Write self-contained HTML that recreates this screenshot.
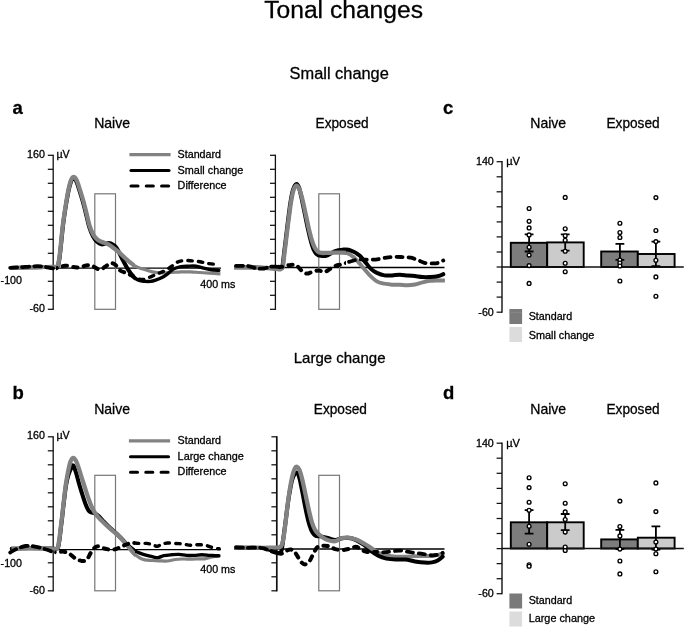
<!DOCTYPE html><html><head><meta charset="utf-8"><style>html,body{margin:0;padding:0;background:#fff}svg{display:block;will-change:transform}text{font-family:"Liberation Sans",sans-serif;fill:#000;stroke:#000;stroke-width:.28px}</style></head><body>
<svg width="685" height="628" viewBox="0 0 685 628">
<rect width="685" height="628" fill="#fff"/>
<text transform="translate(343.60 18.40) scale(1.048 1)" font-size="23.50" text-anchor="middle">Tonal changes</text>
<text transform="translate(339.20 78.70) scale(1.050 1)" font-size="15.60" text-anchor="middle">Small change</text>
<text transform="translate(339.60 363.30) scale(1.050 1)" font-size="14.30" text-anchor="middle">Large change</text>
<text transform="translate(12.40 113.80) scale(1.000 1)" font-size="18.50" font-weight="bold">a</text>
<text transform="translate(112.10 127.90) scale(1.020 1)" font-size="13.80" text-anchor="middle">Naive</text>
<text transform="translate(342.10 127.90) scale(0.990 1)" font-size="13.80" text-anchor="middle">Exposed</text>
<line x1="10.0" y1="268.1" x2="221.0" y2="268.1" stroke="#000" stroke-width="1.3"/>
<rect x="94.8" y="193.8" width="20.7" height="115.5" fill="none" stroke="#777" stroke-width="1.2"/>
<line x1="53.2" y1="154.7" x2="53.2" y2="309.9" stroke="#111" stroke-width="1.3"/>
<line x1="47.8" y1="155.3" x2="53.2" y2="155.3" stroke="#111" stroke-width="1.25"/>
<line x1="47.8" y1="169.3" x2="53.2" y2="169.3" stroke="#111" stroke-width="1.25"/>
<line x1="47.8" y1="183.3" x2="53.2" y2="183.3" stroke="#111" stroke-width="1.25"/>
<line x1="47.8" y1="197.3" x2="53.2" y2="197.3" stroke="#111" stroke-width="1.25"/>
<line x1="47.8" y1="211.3" x2="53.2" y2="211.3" stroke="#111" stroke-width="1.25"/>
<line x1="47.8" y1="225.3" x2="53.2" y2="225.3" stroke="#111" stroke-width="1.25"/>
<line x1="47.8" y1="239.3" x2="53.2" y2="239.3" stroke="#111" stroke-width="1.25"/>
<line x1="47.8" y1="253.3" x2="53.2" y2="253.3" stroke="#111" stroke-width="1.25"/>
<line x1="47.8" y1="267.3" x2="53.2" y2="267.3" stroke="#111" stroke-width="1.25"/>
<line x1="47.8" y1="281.3" x2="53.2" y2="281.3" stroke="#111" stroke-width="1.25"/>
<line x1="47.8" y1="295.3" x2="53.2" y2="295.3" stroke="#111" stroke-width="1.25"/>
<line x1="47.8" y1="309.3" x2="53.2" y2="309.3" stroke="#111" stroke-width="1.25"/>
<line x1="234.0" y1="267.5" x2="444.5" y2="267.5" stroke="#000" stroke-width="1.3"/>
<rect x="318.8" y="193.8" width="20.7" height="115.5" fill="none" stroke="#777" stroke-width="1.2"/>
<line x1="275.4" y1="154.7" x2="275.4" y2="309.9" stroke="#111" stroke-width="1.3"/>
<line x1="270.0" y1="155.3" x2="275.4" y2="155.3" stroke="#111" stroke-width="1.25"/>
<line x1="270.0" y1="169.3" x2="275.4" y2="169.3" stroke="#111" stroke-width="1.25"/>
<line x1="270.0" y1="183.3" x2="275.4" y2="183.3" stroke="#111" stroke-width="1.25"/>
<line x1="270.0" y1="197.3" x2="275.4" y2="197.3" stroke="#111" stroke-width="1.25"/>
<line x1="270.0" y1="211.3" x2="275.4" y2="211.3" stroke="#111" stroke-width="1.25"/>
<line x1="270.0" y1="225.3" x2="275.4" y2="225.3" stroke="#111" stroke-width="1.25"/>
<line x1="270.0" y1="239.3" x2="275.4" y2="239.3" stroke="#111" stroke-width="1.25"/>
<line x1="270.0" y1="253.3" x2="275.4" y2="253.3" stroke="#111" stroke-width="1.25"/>
<line x1="270.0" y1="267.3" x2="275.4" y2="267.3" stroke="#111" stroke-width="1.25"/>
<line x1="270.0" y1="281.3" x2="275.4" y2="281.3" stroke="#111" stroke-width="1.25"/>
<line x1="270.0" y1="295.3" x2="275.4" y2="295.3" stroke="#111" stroke-width="1.25"/>
<line x1="270.0" y1="309.3" x2="275.4" y2="309.3" stroke="#111" stroke-width="1.25"/>
<text transform="translate(44.90 157.60) scale(1.060 1)" font-size="10.10" text-anchor="end">160</text>
<text transform="translate(56.40 157.60) scale(1.060 1)" font-size="10.10">µV</text>
<text transform="translate(45.00 312.20) scale(1.060 1)" font-size="10.10" text-anchor="end">-60</text>
<text transform="translate(0.60 284.30) scale(1.060 1)" font-size="10.10">-100</text>
<text transform="translate(200.30 288.00) scale(1.060 1)" font-size="10.10">400 ms</text>
<line x1="129.4" y1="154.6" x2="170.6" y2="154.6" stroke="#828282" stroke-width="3.1"/>
<line x1="131.0" y1="170.5" x2="169.0" y2="170.5" stroke="#000" stroke-width="3.1" stroke-linecap="round"/>
<line x1="131.0" y1="186.0" x2="169.6" y2="186.0" stroke="#000" stroke-width="3.1" stroke-linecap="round" stroke-dasharray="7 8.3"/>
<text transform="translate(177.60 158.20) scale(1.060 1)" font-size="10.10">Standard</text>
<text transform="translate(177.60 173.80) scale(1.075 1)" font-size="10.10">Small change</text>
<text transform="translate(177.60 189.20) scale(1.070 1)" font-size="10.10">Difference</text>
<text transform="translate(12.40 398.50) scale(1.000 1)" font-size="18.50" font-weight="bold">b</text>
<text transform="translate(112.10 414.10) scale(1.020 1)" font-size="13.80" text-anchor="middle">Naive</text>
<text transform="translate(340.40 414.10) scale(0.990 1)" font-size="13.80" text-anchor="middle">Exposed</text>
<line x1="10.0" y1="549.6" x2="221.0" y2="549.6" stroke="#000" stroke-width="1.3"/>
<rect x="94.8" y="475.3" width="20.7" height="115.5" fill="none" stroke="#777" stroke-width="1.2"/>
<line x1="53.2" y1="436.2" x2="53.2" y2="591.4" stroke="#111" stroke-width="1.3"/>
<line x1="47.8" y1="436.8" x2="53.2" y2="436.8" stroke="#111" stroke-width="1.25"/>
<line x1="47.8" y1="450.8" x2="53.2" y2="450.8" stroke="#111" stroke-width="1.25"/>
<line x1="47.8" y1="464.8" x2="53.2" y2="464.8" stroke="#111" stroke-width="1.25"/>
<line x1="47.8" y1="478.8" x2="53.2" y2="478.8" stroke="#111" stroke-width="1.25"/>
<line x1="47.8" y1="492.8" x2="53.2" y2="492.8" stroke="#111" stroke-width="1.25"/>
<line x1="47.8" y1="506.8" x2="53.2" y2="506.8" stroke="#111" stroke-width="1.25"/>
<line x1="47.8" y1="520.8" x2="53.2" y2="520.8" stroke="#111" stroke-width="1.25"/>
<line x1="47.8" y1="534.8" x2="53.2" y2="534.8" stroke="#111" stroke-width="1.25"/>
<line x1="47.8" y1="548.8" x2="53.2" y2="548.8" stroke="#111" stroke-width="1.25"/>
<line x1="47.8" y1="562.8" x2="53.2" y2="562.8" stroke="#111" stroke-width="1.25"/>
<line x1="47.8" y1="576.8" x2="53.2" y2="576.8" stroke="#111" stroke-width="1.25"/>
<line x1="47.8" y1="590.8" x2="53.2" y2="590.8" stroke="#111" stroke-width="1.25"/>
<line x1="234.0" y1="549.0" x2="444.5" y2="549.0" stroke="#000" stroke-width="1.3"/>
<rect x="318.8" y="475.3" width="20.7" height="115.5" fill="none" stroke="#777" stroke-width="1.2"/>
<line x1="276.8" y1="436.2" x2="276.8" y2="591.4" stroke="#111" stroke-width="1.7"/>
<line x1="271.4" y1="436.8" x2="276.8" y2="436.8" stroke="#111" stroke-width="1.25"/>
<line x1="271.4" y1="450.8" x2="276.8" y2="450.8" stroke="#111" stroke-width="1.25"/>
<line x1="271.4" y1="464.8" x2="276.8" y2="464.8" stroke="#111" stroke-width="1.25"/>
<line x1="271.4" y1="478.8" x2="276.8" y2="478.8" stroke="#111" stroke-width="1.25"/>
<line x1="271.4" y1="492.8" x2="276.8" y2="492.8" stroke="#111" stroke-width="1.25"/>
<line x1="271.4" y1="506.8" x2="276.8" y2="506.8" stroke="#111" stroke-width="1.25"/>
<line x1="271.4" y1="520.8" x2="276.8" y2="520.8" stroke="#111" stroke-width="1.25"/>
<line x1="271.4" y1="534.8" x2="276.8" y2="534.8" stroke="#111" stroke-width="1.25"/>
<line x1="271.4" y1="548.8" x2="276.8" y2="548.8" stroke="#111" stroke-width="1.25"/>
<line x1="271.4" y1="562.8" x2="276.8" y2="562.8" stroke="#111" stroke-width="1.25"/>
<line x1="271.4" y1="576.8" x2="276.8" y2="576.8" stroke="#111" stroke-width="1.25"/>
<line x1="271.4" y1="590.8" x2="276.8" y2="590.8" stroke="#111" stroke-width="1.25"/>
<text transform="translate(44.90 439.10) scale(1.060 1)" font-size="10.10" text-anchor="end">160</text>
<text transform="translate(56.40 439.10) scale(1.060 1)" font-size="10.10">µV</text>
<text transform="translate(45.00 593.70) scale(1.060 1)" font-size="10.10" text-anchor="end">-60</text>
<text transform="translate(0.60 567.00) scale(1.060 1)" font-size="10.10">-100</text>
<text transform="translate(200.30 572.50) scale(1.060 1)" font-size="10.10">400 ms</text>
<line x1="128.9" y1="440.9" x2="170.1" y2="440.9" stroke="#828282" stroke-width="3.1"/>
<line x1="130.5" y1="456.8" x2="168.5" y2="456.8" stroke="#000" stroke-width="3.1" stroke-linecap="round"/>
<line x1="130.5" y1="472.3" x2="169.1" y2="472.3" stroke="#000" stroke-width="3.1" stroke-linecap="round" stroke-dasharray="7 8.3"/>
<text transform="translate(177.60 443.80) scale(1.060 1)" font-size="10.10">Standard</text>
<text transform="translate(177.60 459.80) scale(1.075 1)" font-size="10.10">Large change</text>
<text transform="translate(177.60 475.20) scale(1.070 1)" font-size="10.10">Difference</text>
<defs><clipPath id="n0"><rect x="0.0" y="0" width="56.0" height="628"/></clipPath><clipPath id="n1"><rect x="56.0" y="0" width="79.0" height="628"/></clipPath><clipPath id="n2"><rect x="135.0" y="0" width="95.0" height="628"/></clipPath><clipPath id="e0"><rect x="225.0" y="0" width="53.0" height="628"/></clipPath><clipPath id="e1a"><rect x="278.0" y="0" width="68.0" height="628"/></clipPath><clipPath id="e2a"><rect x="346.0" y="0" width="109.0" height="628"/></clipPath><clipPath id="e1b"><rect x="278.0" y="0" width="96.0" height="628"/></clipPath><clipPath id="e2b"><rect x="374.0" y="0" width="81.0" height="628"/></clipPath><path id="a_n_std" d="M11.5 267.8 C14.6 267.8 24.6 267.6 30.0 267.5 C35.4 267.4 40.2 267.2 44.0 267.1 C47.8 267.0 50.9 266.8 53.0 266.7 C55.1 266.6 55.9 266.8 56.8 266.4 C57.6 266.0 57.8 265.6 58.1 264.6 C58.5 263.6 58.6 261.9 58.9 260.5 C59.1 259.1 59.3 258.6 59.6 256.0 C59.9 253.4 60.3 249.7 60.8 244.9 C61.3 240.1 62.0 232.3 62.6 227.0 C63.2 221.7 63.8 217.5 64.5 213.0 C65.2 208.5 65.9 204.0 66.6 200.0 C67.3 196.0 67.9 192.1 68.6 189.0 C69.3 185.9 70.0 183.1 70.6 181.2 C71.2 179.3 71.8 178.4 72.3 177.7 C72.8 177.0 73.1 177.0 73.6 177.0 C74.1 177.0 74.6 177.0 75.2 177.8 C75.8 178.6 76.6 180.0 77.4 182.0 C78.2 184.0 79.0 186.8 80.0 190.0 C81.0 193.2 82.4 197.4 83.5 201.5 C84.6 205.6 85.8 210.3 86.8 214.5 C87.8 218.7 88.7 223.1 89.8 226.5 C90.9 229.9 92.1 232.6 93.4 234.8 C94.7 237.0 96.2 238.4 97.5 239.6 C98.8 240.8 100.1 241.2 101.5 241.8 C102.9 242.4 104.5 242.7 106.0 243.3 C107.5 244.0 108.7 244.5 110.5 245.7 C112.3 246.9 115.1 249.1 116.7 250.4 C118.3 251.7 118.4 251.7 120.2 253.4 C122.0 255.1 125.3 258.4 127.8 260.5 C130.3 262.6 132.9 264.8 135.4 266.2 C137.9 267.6 140.2 268.2 143.0 269.1 C145.8 270.1 149.2 271.3 152.4 271.9 C155.6 272.5 158.7 272.8 161.9 272.9 C165.1 273.0 168.2 272.7 171.4 272.5 C174.6 272.3 177.7 272.0 180.9 271.9 C184.1 271.8 187.2 271.8 190.4 271.9 C193.6 272.0 196.7 272.3 199.9 272.5 C203.1 272.7 206.0 272.9 209.4 273.1 C212.8 273.3 218.6 273.7 220.4 273.8"/><path id="a_n_chg" d="M11.5 267.8 C14.6 267.8 24.6 267.6 30.0 267.5 C35.4 267.4 40.2 267.4 44.0 267.3 C47.8 267.2 50.8 267.0 53.0 266.9 C55.2 266.8 56.1 267.0 57.0 266.6 C57.9 266.2 57.9 265.8 58.3 264.8 C58.6 263.8 58.9 262.0 59.1 260.5 C59.4 259.0 59.5 258.6 59.8 256.0 C60.1 253.4 60.5 249.7 61.0 244.9 C61.5 240.1 62.2 232.3 62.8 227.0 C63.4 221.7 64.0 217.5 64.7 213.0 C65.4 208.5 66.1 203.9 66.8 200.0 C67.5 196.1 68.1 192.5 68.8 189.5 C69.5 186.5 70.2 183.8 70.8 182.0 C71.4 180.2 71.9 179.3 72.4 178.6 C72.9 177.9 73.2 178.0 73.6 178.0 C74.0 178.0 74.4 178.0 75.0 178.8 C75.6 179.6 76.2 181.0 77.0 183.0 C77.8 185.0 78.6 187.8 79.6 191.0 C80.6 194.2 82.0 198.4 83.1 202.5 C84.2 206.6 85.4 211.3 86.4 215.5 C87.5 219.7 88.3 224.0 89.4 227.5 C90.5 231.0 91.7 233.9 93.0 236.3 C94.3 238.7 95.7 240.5 97.1 241.8 C98.5 243.1 100.0 244.0 101.5 244.3 C103.0 244.6 104.5 243.6 106.0 243.4 C107.5 243.2 109.0 242.7 110.7 243.4 C112.4 244.1 114.5 245.2 116.4 247.8 C118.3 250.4 120.2 255.1 122.1 258.7 C124.0 262.2 125.9 266.1 127.8 269.1 C129.7 272.1 131.6 274.8 133.5 276.7 C135.4 278.6 137.3 279.7 139.2 280.5 C141.1 281.3 143.0 281.2 144.9 281.4 C146.8 281.5 148.7 281.6 150.6 281.4 C152.5 281.1 154.3 280.5 156.2 279.9 C158.1 279.3 160.0 278.6 161.9 277.6 C163.8 276.6 165.7 275.2 167.6 273.8 C169.5 272.4 171.1 270.3 173.3 269.1 C175.5 267.9 178.4 267.1 180.9 266.6 C183.4 266.1 186.0 266.3 188.5 266.2 C191.0 266.1 193.6 265.9 196.1 266.2 C198.6 266.5 201.2 267.5 203.7 268.1 C206.2 268.7 208.8 269.3 211.3 269.7 C213.8 270.1 217.6 270.3 218.8 270.4"/><path id="a_n_dif" d="M10.2 267.8 C11.8 267.7 16.4 267.5 20.0 267.3 C23.6 267.1 28.3 266.5 32.0 266.4 C35.7 266.2 38.2 266.1 42.0 266.4 C45.8 266.7 50.9 268.5 54.7 268.4 C58.5 268.3 61.2 266.0 65.0 265.8 C68.8 265.6 73.3 267.5 77.4 267.4 C81.5 267.3 86.1 264.8 89.8 265.2 C93.5 265.6 97.0 269.3 99.5 269.6 C102.0 269.9 103.5 267.7 105.0 266.8 C106.5 265.9 107.5 264.9 108.8 264.3 C110.1 263.7 111.3 262.9 112.6 263.2 C113.9 263.4 115.1 264.6 116.4 265.8 C117.7 267.0 118.6 269.3 120.2 270.5 C121.8 271.7 124.0 272.1 125.9 272.9 C127.8 273.7 129.7 274.4 131.6 275.4 C133.5 276.3 135.4 277.9 137.3 278.6 C139.2 279.3 141.1 279.7 143.0 279.5 C144.9 279.3 146.8 278.3 148.7 277.6 C150.6 276.9 152.4 276.0 154.3 275.2 C156.2 274.4 158.1 273.6 160.0 272.8 C161.9 272.0 163.8 271.4 165.7 270.3 C167.6 269.2 169.5 267.8 171.4 266.5 C173.3 265.2 174.9 263.3 177.1 262.3 C179.3 261.3 182.2 260.7 184.7 260.5 C187.2 260.3 189.8 260.7 192.3 260.9 C194.8 261.1 197.4 261.3 199.9 261.7 C202.4 262.1 205.0 263.0 207.5 263.4 C210.0 263.8 213.1 264.2 215.1 264.3 C217.1 264.4 218.5 263.9 219.2 263.8"/><path id="a_e_std" d="M234.1 267.8 C237.6 267.8 249.3 267.7 255.0 267.8 C260.6 267.9 264.7 268.0 268.0 268.2 C271.3 268.4 272.9 268.8 275.0 269.0 C277.1 269.2 279.3 269.5 280.6 269.3 C281.9 269.1 282.1 269.0 282.6 267.6 C283.1 266.2 283.3 263.6 283.6 261.0 C283.9 258.4 284.2 255.5 284.6 252.0 C285.0 248.5 285.6 244.1 286.1 240.0 C286.6 235.9 287.1 231.7 287.6 227.5 C288.1 223.3 288.7 218.9 289.3 214.7 C289.9 210.5 290.3 206.2 291.0 202.2 C291.7 198.2 292.4 193.7 293.3 190.9 C294.2 188.2 295.1 185.9 296.2 185.7 C297.2 185.5 298.5 187.4 299.6 189.8 C300.7 192.2 301.6 196.0 302.6 200.2 C303.6 204.3 304.8 209.9 305.8 214.7 C306.9 219.5 307.9 224.8 308.9 229.1 C309.9 233.4 310.9 237.4 311.9 240.5 C312.9 243.6 313.9 246.0 314.8 247.8 C315.8 249.6 316.5 250.7 317.6 251.5 C318.7 252.3 319.9 252.7 321.5 252.9 C323.1 253.1 325.2 252.9 327.2 252.9 C329.2 252.9 331.5 252.8 333.5 252.7 C335.5 252.6 336.8 252.5 339.0 252.6 C341.2 252.7 344.1 252.2 346.6 253.0 C349.1 253.8 351.7 255.5 354.2 257.7 C356.7 259.9 359.3 263.3 361.8 266.2 C364.3 269.1 366.8 272.3 369.3 274.8 C371.8 277.3 374.4 279.9 376.9 281.4 C379.4 282.9 382.0 283.1 384.5 283.7 C387.0 284.2 389.6 284.5 392.1 284.7 C394.6 284.9 397.2 284.6 399.7 284.7 C402.2 284.8 404.8 285.2 407.3 285.2 C409.8 285.2 412.4 285.0 414.9 284.5 C417.4 284.0 420.0 283.0 422.5 282.4 C425.0 281.8 427.6 281.2 430.1 280.9 C432.6 280.6 435.2 280.6 437.7 280.5 C440.2 280.4 443.7 280.5 444.9 280.5"/><path id="a_e_chg" d="M236.0 267.0 C239.2 267.1 249.7 267.3 255.0 267.4 C260.3 267.5 264.7 267.6 268.0 267.8 C271.3 268.0 273.0 268.3 275.0 268.4 C277.0 268.5 279.0 268.8 280.2 268.6 C281.4 268.4 281.7 268.5 282.2 267.2 C282.7 265.9 282.9 263.5 283.2 261.0 C283.5 258.5 283.8 255.5 284.2 252.0 C284.6 248.5 285.2 244.1 285.7 240.0 C286.2 235.9 286.7 231.7 287.2 227.5 C287.7 223.3 288.2 218.9 288.8 214.7 C289.4 210.5 289.8 206.3 290.5 202.2 C291.2 198.1 292.0 192.9 293.0 189.9 C294.0 186.9 295.3 184.2 296.4 184.0 C297.4 183.8 298.4 185.8 299.3 188.5 C300.2 191.2 301.1 195.8 302.0 200.2 C302.9 204.6 304.0 209.9 305.0 214.7 C306.0 219.5 307.0 224.6 308.0 229.1 C309.0 233.6 310.0 238.1 311.0 241.5 C312.0 244.9 312.8 247.7 313.8 249.8 C314.8 251.9 315.7 253.3 316.8 254.3 C317.9 255.3 318.7 255.7 320.5 255.8 C322.3 256.0 325.2 256.0 327.6 255.2 C330.1 254.4 332.7 252.0 335.2 251.1 C337.7 250.2 340.6 249.9 342.8 249.7 C345.0 249.5 346.6 249.3 348.5 249.7 C350.4 250.1 352.3 251.0 354.2 252.0 C356.1 253.0 358.0 254.1 359.9 255.8 C361.8 257.5 363.6 260.2 365.5 262.4 C367.4 264.6 369.3 267.4 371.2 269.1 C373.1 270.9 374.7 271.8 376.9 272.9 C379.1 273.9 382.0 275.0 384.5 275.4 C387.0 275.8 389.6 275.5 392.1 275.4 C394.6 275.3 397.2 274.8 399.7 274.8 C402.2 274.8 404.8 275.2 407.3 275.4 C409.8 275.6 412.4 275.8 414.9 276.1 C417.4 276.4 420.0 276.9 422.5 277.1 C425.0 277.3 427.6 277.2 430.1 277.1 C432.6 277.0 435.5 276.8 437.7 276.3 C439.9 275.8 442.4 274.6 443.3 274.2"/><path id="a_e_dif" d="M236.0 265.8 C237.8 265.8 244.3 265.7 247.0 265.9 C249.7 266.1 250.3 266.6 252.0 267.0 C253.7 267.4 255.0 268.2 257.0 268.5 C259.0 268.8 262.1 268.7 264.0 268.5 C265.9 268.3 267.2 267.5 268.5 267.2 C269.8 266.9 269.8 266.7 272.0 266.6 C274.2 266.5 278.7 267.1 281.7 266.8 C284.7 266.5 287.6 265.1 290.0 264.9 C292.4 264.6 294.3 264.4 296.2 265.3 C298.1 266.2 299.7 269.1 301.4 270.5 C303.1 271.9 304.7 273.4 306.6 273.6 C308.5 273.8 310.7 272.1 312.8 271.6 C314.9 271.1 317.1 270.4 319.0 270.5 C320.9 270.6 322.4 272.4 324.1 272.2 C325.8 272.0 327.4 270.6 329.3 269.5 C331.2 268.4 333.2 266.7 335.5 265.8 C337.8 264.9 340.3 264.7 342.8 264.0 C345.3 263.3 347.9 262.2 350.4 261.5 C352.9 260.8 355.5 259.9 358.0 259.6 C360.5 259.3 363.0 259.6 365.5 259.6 C368.0 259.6 370.6 259.8 373.1 259.6 C375.6 259.5 378.2 259.1 380.7 258.7 C383.2 258.3 385.8 257.6 388.3 257.3 C390.8 257.0 393.4 256.8 395.9 256.8 C398.4 256.8 401.0 257.0 403.5 257.1 C406.0 257.2 408.6 257.1 411.1 257.7 C413.6 258.3 416.5 259.6 418.7 260.5 C420.9 261.4 422.2 262.3 424.4 262.8 C426.6 263.3 429.8 263.4 432.0 263.4 C434.2 263.4 435.8 263.5 437.7 263.0 C439.6 262.5 442.4 260.9 443.3 260.5"/><path id="b_n_std" d="M11.5 548.5 C14.6 548.5 23.6 548.3 30.0 548.3 C36.4 548.3 45.6 548.3 50.0 548.4 C54.4 548.5 55.2 548.9 56.6 548.6 C58.0 548.3 57.7 547.6 58.1 546.5 C58.5 545.4 58.6 543.5 58.9 542.0 C59.1 540.5 59.3 540.2 59.6 537.5 C59.9 534.8 60.5 529.4 60.9 526.0 C61.3 522.6 61.6 520.3 62.0 517.0 C62.4 513.7 62.8 509.5 63.2 506.0 C63.6 502.5 64.0 499.4 64.4 496.0 C64.8 492.6 65.1 489.2 65.7 485.3 C66.3 481.4 67.0 476.8 67.8 472.9 C68.6 468.9 69.6 464.1 70.5 461.6 C71.4 459.1 72.4 457.8 73.4 457.8 C74.4 457.8 75.4 459.6 76.4 461.6 C77.4 463.6 78.3 466.7 79.3 469.8 C80.3 472.9 81.3 476.4 82.5 480.2 C83.7 484.0 85.2 488.6 86.5 492.6 C87.8 496.6 89.2 500.7 90.5 504.0 C91.8 507.3 93.2 510.0 94.5 512.2 C95.8 514.4 96.8 515.6 98.4 517.4 C100.0 519.2 102.2 521.2 104.3 523.2 C106.3 525.2 108.7 527.4 110.7 529.2 C112.7 531.0 114.5 532.2 116.4 533.9 C118.3 535.6 120.2 537.5 122.1 539.6 C124.0 541.7 125.9 544.0 127.8 546.2 C129.7 548.4 131.6 551.0 133.5 552.9 C135.4 554.8 137.3 556.4 139.2 557.6 C141.1 558.8 142.7 559.4 144.9 559.9 C147.1 560.4 149.9 560.3 152.4 560.5 C154.9 560.7 157.5 560.8 160.0 560.9 C162.5 561.0 165.1 561.2 167.6 561.0 C170.1 560.8 172.7 559.8 175.2 559.5 C177.7 559.2 180.3 559.1 182.8 559.0 C185.3 558.9 187.9 559.1 190.4 559.1 C192.9 559.1 195.5 558.9 198.0 558.8 C200.5 558.7 203.1 559.0 205.6 558.6 C208.1 558.2 210.7 557.2 213.2 556.7 C215.7 556.2 219.2 555.9 220.4 555.7"/><path id="b_n_chg" d="M11.5 548.5 C14.6 548.5 23.6 548.3 30.0 548.3 C36.4 548.3 45.5 548.3 50.0 548.4 C54.5 548.5 55.4 548.9 56.8 548.6 C58.2 548.3 57.9 547.6 58.3 546.5 C58.7 545.4 58.9 543.5 59.1 542.0 C59.4 540.5 59.5 540.2 59.8 537.5 C60.1 534.8 60.7 529.4 61.1 526.0 C61.5 522.6 61.8 520.3 62.2 517.0 C62.6 513.7 63.0 509.5 63.4 506.0 C63.8 502.5 64.2 499.4 64.6 496.0 C65.0 492.6 65.4 488.8 66.0 485.3 C66.6 481.8 67.5 477.8 68.4 474.9 C69.3 472.0 70.4 469.8 71.2 468.2 C72.0 466.6 72.4 464.9 73.2 465.5 C74.0 466.1 74.8 468.8 75.8 471.9 C76.8 475.0 78.1 480.5 79.2 484.3 C80.3 488.1 81.4 491.4 82.4 494.7 C83.5 498.0 84.5 501.4 85.5 504.0 C86.5 506.6 87.5 508.8 88.4 510.2 C89.4 511.6 90.1 511.8 91.2 512.4 C92.3 512.9 93.7 512.8 95.0 513.5 C96.3 514.2 97.5 514.9 99.1 516.4 C100.6 517.9 102.4 520.2 104.3 522.2 C106.2 524.2 108.7 526.7 110.7 528.6 C112.7 530.5 114.5 531.7 116.4 533.5 C118.3 535.3 120.2 537.2 122.1 539.2 C124.0 541.2 125.9 543.5 127.8 545.3 C129.7 547.1 131.6 548.7 133.5 550.0 C135.4 551.3 137.3 552.1 139.2 552.9 C141.1 553.7 142.7 554.2 144.9 554.8 C147.1 555.4 150.2 556.2 152.4 556.7 C154.6 557.2 156.2 557.8 158.1 557.6 C160.0 557.4 161.6 556.2 163.8 555.7 C166.0 555.2 168.9 555.0 171.4 554.8 C173.9 554.6 176.5 554.3 179.0 554.4 C181.5 554.5 184.1 555.2 186.6 555.4 C189.1 555.6 191.7 555.5 194.2 555.4 C196.7 555.3 199.3 554.8 201.8 554.8 C204.3 554.8 206.9 555.2 209.4 555.4 C211.9 555.5 215.4 555.7 217.0 555.7 C218.6 555.8 218.5 555.7 218.8 555.7"/><path id="b_n_dif" d="M10.2 552.6 C11.0 552.1 12.7 550.6 15.3 549.5 C17.9 548.4 22.2 546.5 25.7 546.0 C29.1 545.5 32.5 546.2 36.0 546.8 C39.5 547.4 43.3 548.6 46.4 549.5 C49.5 550.4 52.0 551.9 54.7 552.2 C57.5 552.6 60.5 551.4 62.9 551.6 C65.3 551.8 67.0 552.5 69.1 553.6 C71.2 554.7 73.2 557.2 75.3 558.4 C77.4 559.6 79.7 560.7 81.6 560.9 C83.5 561.1 85.2 561.2 86.7 559.8 C88.2 558.4 89.5 554.7 90.9 552.6 C92.3 550.5 93.6 548.4 95.0 547.4 C96.4 546.4 97.5 546.2 99.1 546.4 C100.6 546.6 102.4 548.0 104.3 548.5 C106.2 549.0 108.5 549.6 110.5 549.7 C112.5 549.8 114.4 549.4 116.0 549.0 C117.6 548.6 118.5 547.9 120.2 547.2 C121.9 546.5 124.0 545.4 125.9 544.7 C127.8 544.0 129.4 543.2 131.6 543.0 C133.8 542.8 136.7 543.3 139.2 543.4 C141.7 543.5 144.6 543.2 146.8 543.4 C149.0 543.6 150.7 544.2 152.4 544.7 C154.1 545.2 155.6 546.3 157.2 546.2 C158.8 546.1 160.2 544.8 161.9 544.3 C163.6 543.8 165.4 543.1 167.6 543.0 C169.8 542.9 172.7 543.2 175.2 543.4 C177.7 543.6 180.3 543.7 182.8 544.0 C185.3 544.3 187.9 545.2 190.4 545.3 C192.9 545.4 195.5 544.7 198.0 544.7 C200.5 544.7 203.4 544.9 205.6 545.3 C207.8 545.7 209.4 546.7 211.3 547.2 C213.2 547.7 215.7 548.2 217.0 548.5 C218.3 548.8 218.8 548.7 219.2 548.7"/><path id="b_e_std" d="M234.1 547.8 C237.6 547.8 249.0 547.8 255.0 547.8 C261.0 547.8 265.9 547.7 270.0 547.6 C274.1 547.5 277.6 547.9 279.6 547.2 C281.7 546.5 281.6 545.5 282.3 543.3 C283.1 541.1 283.5 538.0 284.1 534.0 C284.7 530.0 285.3 524.5 285.9 519.5 C286.5 514.5 287.1 508.8 287.7 504.0 C288.3 499.2 288.9 495.0 289.6 490.5 C290.3 486.0 291.3 480.7 292.1 477.1 C292.9 473.5 293.8 470.5 294.6 468.8 C295.4 467.1 295.9 466.4 296.8 466.7 C297.7 467.0 298.9 468.3 299.9 470.9 C300.9 473.5 301.9 477.9 302.9 482.2 C303.9 486.5 305.0 491.9 306.0 496.7 C307.0 501.5 308.1 506.9 309.1 511.2 C310.1 515.5 311.0 519.5 312.0 522.6 C313.0 525.7 314.0 528.0 315.0 529.8 C316.0 531.6 316.8 532.4 318.0 533.6 C319.2 534.8 320.4 535.9 322.0 537.0 C323.6 538.1 325.4 539.3 327.6 540.0 C329.8 540.7 333.0 541.5 335.2 541.2 C337.4 540.9 338.7 538.9 340.9 538.3 C343.1 537.7 346.0 537.5 348.5 537.7 C351.0 537.9 353.6 538.7 356.1 539.6 C358.6 540.5 361.2 542.0 363.7 543.4 C366.2 544.8 368.7 546.5 371.2 548.1 C373.7 549.7 376.3 551.7 378.8 552.9 C381.3 554.1 383.5 554.8 386.4 555.4 C389.2 556.0 392.7 556.5 395.9 556.7 C399.1 556.9 402.2 556.8 405.4 556.7 C408.6 556.6 411.7 556.2 414.9 556.1 C418.1 556.0 421.2 556.2 424.4 556.1 C427.6 556.0 431.0 556.1 433.9 555.7 C436.8 555.3 439.8 554.3 441.5 553.8 C443.2 553.3 443.8 552.7 444.3 552.5"/><path id="b_e_chg" d="M236.0 547.4 C238.3 547.4 245.8 547.5 250.0 547.6 C254.2 547.7 257.8 547.4 261.0 547.8 C264.2 548.2 266.9 549.3 269.3 550.0 C271.7 550.7 273.8 551.5 275.5 552.0 C277.2 552.5 278.5 553.3 279.5 553.0 C280.5 552.7 281.0 552.5 281.6 550.0 C282.2 547.5 282.8 542.5 283.4 538.0 C284.0 533.5 284.7 528.2 285.4 523.0 C286.1 517.8 286.7 512.0 287.4 507.0 C288.1 502.0 288.7 497.4 289.5 493.0 C290.3 488.6 291.1 483.7 292.0 480.5 C292.9 477.3 293.8 475.3 294.6 474.0 C295.4 472.7 296.1 472.3 296.8 472.6 C297.5 472.9 298.1 473.8 298.8 476.0 C299.5 478.2 300.4 482.0 301.2 486.0 C302.0 490.0 303.0 495.3 303.9 500.0 C304.8 504.7 305.8 509.8 306.7 514.0 C307.6 518.2 308.5 521.9 309.5 525.0 C310.5 528.1 311.4 530.7 312.5 532.5 C313.6 534.3 314.5 535.4 315.8 536.0 C317.1 536.6 318.3 536.0 320.3 536.3 C322.3 536.6 325.1 537.4 327.6 538.0 C330.1 538.6 333.0 539.9 335.2 540.0 C337.4 540.1 338.7 538.9 340.9 538.5 C343.1 538.1 346.0 537.6 348.5 537.9 C351.0 538.1 353.6 538.9 356.1 540.0 C358.6 541.1 361.2 542.9 363.7 544.7 C366.2 546.5 368.7 549.1 371.2 551.0 C373.7 552.9 376.3 554.8 378.8 556.1 C381.3 557.4 383.5 558.0 386.4 558.6 C389.2 559.2 392.7 559.4 395.9 559.5 C399.1 559.6 402.2 559.2 405.4 559.5 C408.6 559.8 411.7 560.9 414.9 561.4 C418.1 561.9 421.5 562.4 424.4 562.6 C427.2 562.8 429.8 562.8 432.0 562.4 C434.2 562.0 435.9 561.5 437.7 560.5 C439.5 559.5 441.9 557.3 442.7 556.7"/><path id="b_e_dif" d="M236.0 547.4 C237.8 547.5 242.4 547.7 246.6 547.8 C250.8 547.9 257.2 547.3 261.0 547.8 C264.8 548.2 266.9 549.7 269.3 550.5 C271.7 551.3 273.4 552.1 275.5 552.6 C277.6 553.1 279.8 554.0 281.7 553.6 C283.6 553.2 285.3 551.2 286.9 550.5 C288.4 549.8 289.6 549.1 291.0 549.5 C292.4 549.9 293.6 550.7 295.2 552.6 C296.8 554.5 298.7 558.9 300.3 560.9 C301.9 562.9 303.3 564.4 304.9 564.4 C306.5 564.4 308.2 562.9 309.7 560.9 C311.2 558.9 312.4 555.0 313.8 552.6 C315.2 550.2 316.3 547.9 317.9 546.8 C319.4 545.7 321.2 545.9 323.1 545.8 C325.0 545.7 327.3 545.8 329.3 546.4 C331.3 547.0 332.9 548.5 335.2 549.1 C337.4 549.7 340.3 550.1 342.8 550.0 C345.3 549.9 348.2 549.0 350.4 548.5 C352.6 548.0 354.2 546.5 356.1 546.8 C358.0 547.0 359.9 549.1 361.8 550.0 C363.7 550.9 365.2 551.6 367.4 551.9 C369.6 552.2 372.5 551.8 375.0 551.9 C377.5 552.0 380.1 552.3 382.6 552.3 C385.1 552.2 387.4 551.9 390.2 551.6 C393.0 551.3 396.8 550.6 399.7 550.6 C402.6 550.6 404.8 551.2 407.3 551.6 C409.8 552.0 412.4 552.5 414.9 552.9 C417.4 553.3 420.0 553.4 422.5 553.8 C425.0 554.2 427.6 555.0 430.1 555.2 C432.6 555.4 435.6 555.2 437.7 554.8 C439.8 554.4 441.9 553.2 442.7 552.9"/></defs>
<g fill="none" stroke-linejoin="round">
<use href="#a_n_chg" stroke="#000" stroke-width="3.6" clip-path="url(#n0)" stroke-linecap="round"/>
<use href="#a_n_std" stroke="#828282" stroke-width="4.0" clip-path="url(#n0)"/>
<use href="#a_n_dif" stroke="#000" stroke-width="3.8" clip-path="url(#n0)" stroke-linecap="round" stroke-dasharray="7 5"/>
<use href="#a_n_chg" stroke="#000" stroke-width="4.1" clip-path="url(#n1)" stroke-linecap="round"/>
<use href="#a_n_std" stroke="#828282" stroke-width="4.3" clip-path="url(#n1)"/>
<use href="#a_n_dif" stroke="#000" stroke-width="4.0" clip-path="url(#n1)" stroke-linecap="round" stroke-dasharray="4.4 6.2"/>
<use href="#a_n_std" stroke="#828282" stroke-width="3.2" clip-path="url(#n2)"/>
<use href="#a_n_chg" stroke="#000" stroke-width="3.4" clip-path="url(#n2)" stroke-linecap="round"/>
<use href="#a_n_dif" stroke="#000" stroke-width="3.4" clip-path="url(#n2)" stroke-linecap="round" stroke-dasharray="4.4 6.2"/>
<use href="#a_e_chg" stroke="#000" stroke-width="3.6" clip-path="url(#e0)" stroke-linecap="round"/>
<use href="#a_e_std" stroke="#828282" stroke-width="4.0" clip-path="url(#e0)"/>
<use href="#a_e_dif" stroke="#000" stroke-width="3.8" clip-path="url(#e0)" stroke-linecap="round" stroke-dasharray="7 5"/>
<use href="#a_e_chg" stroke="#000" stroke-width="4.1" clip-path="url(#e1a)" stroke-linecap="round"/>
<use href="#a_e_std" stroke="#828282" stroke-width="4.3" clip-path="url(#e1a)"/>
<use href="#a_e_dif" stroke="#000" stroke-width="4.0" clip-path="url(#e1a)" stroke-linecap="round" stroke-dasharray="4.4 6.2"/>
<use href="#a_e_std" stroke="#828282" stroke-width="3.9" clip-path="url(#e2a)"/>
<use href="#a_e_chg" stroke="#000" stroke-width="4.0" clip-path="url(#e2a)" stroke-linecap="round"/>
<use href="#a_e_dif" stroke="#000" stroke-width="3.8" clip-path="url(#e2a)" stroke-linecap="round" stroke-dasharray="6 6"/>
<use href="#b_n_chg" stroke="#000" stroke-width="3.6" clip-path="url(#n0)" stroke-linecap="round"/>
<use href="#b_n_std" stroke="#828282" stroke-width="4.0" clip-path="url(#n0)"/>
<use href="#b_n_dif" stroke="#000" stroke-width="3.8" clip-path="url(#n0)" stroke-linecap="round" stroke-dasharray="7 5"/>
<use href="#b_n_chg" stroke="#000" stroke-width="4.1" clip-path="url(#n1)" stroke-linecap="round"/>
<use href="#b_n_std" stroke="#828282" stroke-width="4.3" clip-path="url(#n1)"/>
<use href="#b_n_dif" stroke="#000" stroke-width="4.0" clip-path="url(#n1)" stroke-linecap="round" stroke-dasharray="4.4 6.2"/>
<use href="#b_n_std" stroke="#828282" stroke-width="3.2" clip-path="url(#n2)"/>
<use href="#b_n_chg" stroke="#000" stroke-width="3.4" clip-path="url(#n2)" stroke-linecap="round"/>
<use href="#b_n_dif" stroke="#000" stroke-width="3.4" clip-path="url(#n2)" stroke-linecap="round" stroke-dasharray="4.4 6.2"/>
<use href="#b_e_chg" stroke="#000" stroke-width="3.6" clip-path="url(#e0)" stroke-linecap="round"/>
<use href="#b_e_std" stroke="#828282" stroke-width="4.0" clip-path="url(#e0)"/>
<use href="#b_e_dif" stroke="#000" stroke-width="3.8" clip-path="url(#e0)" stroke-linecap="round" stroke-dasharray="7 5"/>
<use href="#b_e_chg" stroke="#000" stroke-width="4.1" clip-path="url(#e1b)" stroke-linecap="round"/>
<use href="#b_e_std" stroke="#828282" stroke-width="4.3" clip-path="url(#e1b)"/>
<use href="#b_e_dif" stroke="#000" stroke-width="4.0" clip-path="url(#e1b)" stroke-linecap="round" stroke-dasharray="4.4 6.2"/>
<use href="#b_e_std" stroke="#828282" stroke-width="3.9" clip-path="url(#e2b)"/>
<use href="#b_e_chg" stroke="#000" stroke-width="4.0" clip-path="url(#e2b)" stroke-linecap="round"/>
<use href="#b_e_dif" stroke="#000" stroke-width="3.8" clip-path="url(#e2b)" stroke-linecap="round" stroke-dasharray="6 6"/>
</g>
<text transform="translate(443.00 113.80) scale(1.000 1)" font-size="18.50" font-weight="bold">c</text>
<text transform="translate(548.20 127.90) scale(1.020 1)" font-size="13.80" text-anchor="middle">Naive</text>
<text transform="translate(633.00 127.90) scale(0.990 1)" font-size="13.80" text-anchor="middle">Exposed</text>
<rect x="510.8" y="242.8" width="36.4" height="24.2" fill="#7d7d7d" stroke="#000" stroke-width="1.9"/>
<rect x="547.2" y="242.4" width="36.5" height="24.6" fill="#cbcbcb" stroke="#000" stroke-width="1.9"/>
<rect x="601.2" y="251.5" width="36.6" height="15.5" fill="#7d7d7d" stroke="#000" stroke-width="1.9"/>
<rect x="637.8" y="254.0" width="36.8" height="13.0" fill="#cbcbcb" stroke="#000" stroke-width="1.9"/>
<line x1="502.0" y1="267.0" x2="683.8" y2="267.0" stroke="#111" stroke-width="1.3"/>
<line x1="502.0" y1="161.1" x2="502.0" y2="312.8" stroke="#111" stroke-width="1.4"/>
<line x1="496.6" y1="161.7" x2="502.0" y2="161.7" stroke="#111" stroke-width="1.25"/>
<line x1="496.6" y1="176.8" x2="502.0" y2="176.8" stroke="#111" stroke-width="1.25"/>
<line x1="496.6" y1="191.8" x2="502.0" y2="191.8" stroke="#111" stroke-width="1.25"/>
<line x1="496.6" y1="206.8" x2="502.0" y2="206.8" stroke="#111" stroke-width="1.25"/>
<line x1="496.6" y1="221.9" x2="502.0" y2="221.9" stroke="#111" stroke-width="1.25"/>
<line x1="496.6" y1="236.9" x2="502.0" y2="236.9" stroke="#111" stroke-width="1.25"/>
<line x1="496.6" y1="252.0" x2="502.0" y2="252.0" stroke="#111" stroke-width="1.25"/>
<line x1="496.6" y1="267.0" x2="502.0" y2="267.0" stroke="#111" stroke-width="1.25"/>
<line x1="496.6" y1="282.1" x2="502.0" y2="282.1" stroke="#111" stroke-width="1.25"/>
<line x1="496.6" y1="297.1" x2="502.0" y2="297.1" stroke="#111" stroke-width="1.25"/>
<line x1="496.6" y1="312.2" x2="502.0" y2="312.2" stroke="#111" stroke-width="1.25"/>
<path d="M524.7 234.4 H533.5 M524.7 251.5 H533.5 M529.1 234.4 V251.5" stroke="#000" stroke-width="1.8" fill="none"/>
<path d="M560.8 234.4 H569.6 M560.8 250.7 H569.6 M565.2 234.4 V250.7" stroke="#000" stroke-width="1.8" fill="none"/>
<path d="M615.5 243.8 H624.3 M615.5 259.8 H624.3 M619.9 243.8 V259.8" stroke="#000" stroke-width="1.8" fill="none"/>
<path d="M651.5 241.6 H660.3 M651.5 266.1 H660.3 M655.9 241.6 V266.1" stroke="#000" stroke-width="1.8" fill="none"/>
<circle cx="529.1" cy="208.5" r="1.9" fill="#fff" stroke="#000" stroke-width="1.35"/>
<circle cx="529.1" cy="221.3" r="1.9" fill="#fff" stroke="#000" stroke-width="1.35"/>
<circle cx="529.1" cy="227.9" r="1.9" fill="#fff" stroke="#000" stroke-width="1.35"/>
<circle cx="529.1" cy="234.9" r="1.9" fill="#fff" stroke="#000" stroke-width="1.35"/>
<circle cx="529.1" cy="247.2" r="1.9" fill="#fff" stroke="#000" stroke-width="1.35"/>
<circle cx="529.1" cy="255.1" r="1.9" fill="#fff" stroke="#000" stroke-width="1.35"/>
<circle cx="529.1" cy="265.6" r="1.9" fill="#fff" stroke="#000" stroke-width="1.35"/>
<circle cx="529.1" cy="283.4" r="1.9" fill="#fff" stroke="#000" stroke-width="1.35"/>
<circle cx="565.2" cy="197.4" r="1.9" fill="#fff" stroke="#000" stroke-width="1.35"/>
<circle cx="565.2" cy="228.8" r="1.9" fill="#fff" stroke="#000" stroke-width="1.35"/>
<circle cx="565.2" cy="235.8" r="1.9" fill="#fff" stroke="#000" stroke-width="1.35"/>
<circle cx="565.2" cy="240.2" r="1.9" fill="#fff" stroke="#000" stroke-width="1.35"/>
<circle cx="565.2" cy="251.2" r="1.9" fill="#fff" stroke="#000" stroke-width="1.35"/>
<circle cx="565.2" cy="263.3" r="1.9" fill="#fff" stroke="#000" stroke-width="1.35"/>
<circle cx="565.2" cy="271.7" r="1.9" fill="#fff" stroke="#000" stroke-width="1.35"/>
<circle cx="619.9" cy="223.2" r="1.9" fill="#fff" stroke="#000" stroke-width="1.35"/>
<circle cx="619.9" cy="232.5" r="1.9" fill="#fff" stroke="#000" stroke-width="1.35"/>
<circle cx="619.9" cy="237.5" r="1.9" fill="#fff" stroke="#000" stroke-width="1.35"/>
<circle cx="619.9" cy="260.0" r="1.9" fill="#fff" stroke="#000" stroke-width="1.35"/>
<circle cx="619.9" cy="263.0" r="1.9" fill="#fff" stroke="#000" stroke-width="1.35"/>
<circle cx="619.9" cy="266.0" r="1.9" fill="#fff" stroke="#000" stroke-width="1.35"/>
<circle cx="619.9" cy="281.0" r="1.9" fill="#fff" stroke="#000" stroke-width="1.35"/>
<circle cx="655.9" cy="197.6" r="1.9" fill="#fff" stroke="#000" stroke-width="1.35"/>
<circle cx="655.9" cy="230.5" r="1.9" fill="#fff" stroke="#000" stroke-width="1.35"/>
<circle cx="655.9" cy="241.6" r="1.9" fill="#fff" stroke="#000" stroke-width="1.35"/>
<circle cx="655.9" cy="260.3" r="1.9" fill="#fff" stroke="#000" stroke-width="1.35"/>
<circle cx="655.9" cy="276.9" r="1.9" fill="#fff" stroke="#000" stroke-width="1.35"/>
<circle cx="655.9" cy="296.2" r="1.9" fill="#fff" stroke="#000" stroke-width="1.35"/>
<text transform="translate(493.80 165.00) scale(1.060 1)" font-size="10.10" text-anchor="end">140</text>
<text transform="translate(506.20 165.00) scale(1.100 1)" font-size="10.10">µV</text>
<text transform="translate(493.80 315.60) scale(1.060 1)" font-size="10.10" text-anchor="end">-60</text>
<rect x="509.4" y="309.0" width="12.7" height="15" fill="#7a7a7a"/>
<line x1="509.4" x2="522.1" y1="312.4" y2="312.4" stroke="#8c8c8c" stroke-width="0.8"/>
<rect x="509.4" y="327.0" width="12.7" height="15" fill="#dcdcdc"/>
<text transform="translate(528.70 320.20) scale(1.060 1)" font-size="10.10">Standard</text>
<text transform="translate(528.70 338.50) scale(1.075 1)" font-size="10.10">Small change</text>
<text transform="translate(443.00 398.90) scale(1.000 1)" font-size="18.50" font-weight="bold">d</text>
<text transform="translate(548.20 414.10) scale(1.020 1)" font-size="13.80" text-anchor="middle">Naive</text>
<text transform="translate(633.00 414.10) scale(0.990 1)" font-size="13.80" text-anchor="middle">Exposed</text>
<rect x="510.8" y="522.3" width="36.4" height="26.2" fill="#7d7d7d" stroke="#000" stroke-width="1.9"/>
<rect x="547.2" y="522.3" width="36.5" height="26.2" fill="#cbcbcb" stroke="#000" stroke-width="1.9"/>
<rect x="601.2" y="539.4" width="36.6" height="9.1" fill="#7d7d7d" stroke="#000" stroke-width="1.9"/>
<rect x="637.8" y="537.7" width="36.8" height="10.8" fill="#cbcbcb" stroke="#000" stroke-width="1.9"/>
<line x1="502.0" y1="548.5" x2="683.8" y2="548.5" stroke="#111" stroke-width="1.3"/>
<line x1="502.0" y1="442.6" x2="502.0" y2="594.3" stroke="#111" stroke-width="1.4"/>
<line x1="496.6" y1="443.2" x2="502.0" y2="443.2" stroke="#111" stroke-width="1.25"/>
<line x1="496.6" y1="458.2" x2="502.0" y2="458.2" stroke="#111" stroke-width="1.25"/>
<line x1="496.6" y1="473.3" x2="502.0" y2="473.3" stroke="#111" stroke-width="1.25"/>
<line x1="496.6" y1="488.4" x2="502.0" y2="488.4" stroke="#111" stroke-width="1.25"/>
<line x1="496.6" y1="503.4" x2="502.0" y2="503.4" stroke="#111" stroke-width="1.25"/>
<line x1="496.6" y1="518.5" x2="502.0" y2="518.5" stroke="#111" stroke-width="1.25"/>
<line x1="496.6" y1="533.5" x2="502.0" y2="533.5" stroke="#111" stroke-width="1.25"/>
<line x1="496.6" y1="548.6" x2="502.0" y2="548.6" stroke="#111" stroke-width="1.25"/>
<line x1="496.6" y1="563.6" x2="502.0" y2="563.6" stroke="#111" stroke-width="1.25"/>
<line x1="496.6" y1="578.7" x2="502.0" y2="578.7" stroke="#111" stroke-width="1.25"/>
<line x1="496.6" y1="593.7" x2="502.0" y2="593.7" stroke="#111" stroke-width="1.25"/>
<path d="M524.7 510.2 H533.5 M524.7 533.7 H533.5 M529.1 510.2 V533.7" stroke="#000" stroke-width="1.8" fill="none"/>
<path d="M560.8 514.0 H569.6 M560.8 530.1 H569.6 M565.2 514.0 V530.1" stroke="#000" stroke-width="1.8" fill="none"/>
<path d="M615.5 529.8 H624.3 M615.5 549.0 H624.3 M619.9 529.8 V549.0" stroke="#000" stroke-width="1.8" fill="none"/>
<path d="M651.5 526.3 H660.3 M651.5 549.6 H660.3 M655.9 526.3 V549.6" stroke="#000" stroke-width="1.8" fill="none"/>
<circle cx="529.1" cy="477.8" r="1.9" fill="#fff" stroke="#000" stroke-width="1.35"/>
<circle cx="529.1" cy="487.6" r="1.9" fill="#fff" stroke="#000" stroke-width="1.35"/>
<circle cx="529.1" cy="502.3" r="1.9" fill="#fff" stroke="#000" stroke-width="1.35"/>
<circle cx="529.1" cy="510.2" r="1.9" fill="#fff" stroke="#000" stroke-width="1.35"/>
<circle cx="529.1" cy="526.3" r="1.9" fill="#fff" stroke="#000" stroke-width="1.35"/>
<circle cx="529.1" cy="544.2" r="1.9" fill="#fff" stroke="#000" stroke-width="1.35"/>
<circle cx="529.1" cy="564.8" r="1.9" fill="#fff" stroke="#000" stroke-width="1.35"/>
<circle cx="529.1" cy="566.2" r="1.9" fill="#fff" stroke="#000" stroke-width="1.35"/>
<circle cx="565.2" cy="483.7" r="1.9" fill="#fff" stroke="#000" stroke-width="1.35"/>
<circle cx="565.2" cy="503.2" r="1.9" fill="#fff" stroke="#000" stroke-width="1.35"/>
<circle cx="565.2" cy="511.9" r="1.9" fill="#fff" stroke="#000" stroke-width="1.35"/>
<circle cx="565.2" cy="519.6" r="1.9" fill="#fff" stroke="#000" stroke-width="1.35"/>
<circle cx="565.2" cy="532.1" r="1.9" fill="#fff" stroke="#000" stroke-width="1.35"/>
<circle cx="565.2" cy="547.0" r="1.9" fill="#fff" stroke="#000" stroke-width="1.35"/>
<circle cx="565.2" cy="550.5" r="1.9" fill="#fff" stroke="#000" stroke-width="1.35"/>
<circle cx="619.9" cy="501.1" r="1.9" fill="#fff" stroke="#000" stroke-width="1.35"/>
<circle cx="619.9" cy="526.6" r="1.9" fill="#fff" stroke="#000" stroke-width="1.35"/>
<circle cx="619.9" cy="535.9" r="1.9" fill="#fff" stroke="#000" stroke-width="1.35"/>
<circle cx="619.9" cy="549.1" r="1.9" fill="#fff" stroke="#000" stroke-width="1.35"/>
<circle cx="619.9" cy="561.0" r="1.9" fill="#fff" stroke="#000" stroke-width="1.35"/>
<circle cx="619.9" cy="573.9" r="1.9" fill="#fff" stroke="#000" stroke-width="1.35"/>
<circle cx="655.9" cy="482.9" r="1.9" fill="#fff" stroke="#000" stroke-width="1.35"/>
<circle cx="655.9" cy="511.6" r="1.9" fill="#fff" stroke="#000" stroke-width="1.35"/>
<circle cx="655.9" cy="542.1" r="1.9" fill="#fff" stroke="#000" stroke-width="1.35"/>
<circle cx="655.9" cy="549.1" r="1.9" fill="#fff" stroke="#000" stroke-width="1.35"/>
<circle cx="655.9" cy="553.8" r="1.9" fill="#fff" stroke="#000" stroke-width="1.35"/>
<circle cx="655.9" cy="571.8" r="1.9" fill="#fff" stroke="#000" stroke-width="1.35"/>
<text transform="translate(493.80 446.50) scale(1.060 1)" font-size="10.10" text-anchor="end">140</text>
<text transform="translate(506.20 446.50) scale(1.100 1)" font-size="10.10">µV</text>
<text transform="translate(493.80 597.10) scale(1.060 1)" font-size="10.10" text-anchor="end">-60</text>
<rect x="509.4" y="593.5" width="12.7" height="15" fill="#7a7a7a"/>
<rect x="509.4" y="611.5" width="12.7" height="15" fill="#dcdcdc"/>
<text transform="translate(528.70 604.40) scale(1.060 1)" font-size="10.10">Standard</text>
<text transform="translate(528.70 622.00) scale(1.075 1)" font-size="10.10">Large change</text>
</svg></body></html>
